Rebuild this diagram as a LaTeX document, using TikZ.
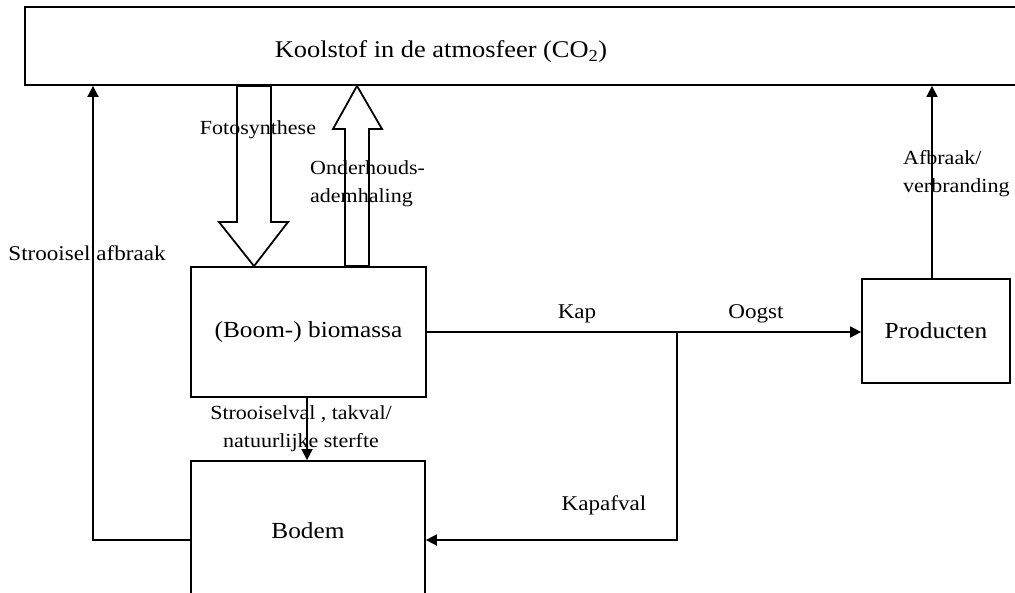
\documentclass[tikz,border=0pt]{standalone}
\usepackage{fontspec}
\setmainfont{Liberation Serif}[FakeStretch=1.1]
\usetikzlibrary{calc}
\usetikzlibrary{arrows.meta}

\begin{document}
\begin{tikzpicture}[x=1pt, y=-1pt, line join = miter, >={Triangle[length=11pt,width=11pt]}]
\tikzstyle{box}=[draw=black, line width=1.8pt, rectangle, inner sep=0pt, font=\fontsize{23}{28}\selectfont]
\tikzstyle{flow}=[draw=black, line width=1.8pt, ->]
\tikzstyle{fat}=[draw=black, fill=white, line width=1.8pt]
\tikzstyle{lbl}=[inner sep=0pt, font=\fontsize{21}{28}\selectfont]
\tikzstyle{small}=[inner sep=0pt, font=\fontsize{20}{28}\selectfont]
\clip (0,0) rectangle (1015,592);

\node[box, minimum width=1000pt, minimum height=78pt] (atmos) at (525,46) {};
\node[lbl, font=\fontsize{24}{28}\selectfont] (atmostxt) at (441,52) {Koolstof in de atmosfeer (CO\textsubscript{2})};
\node[box, minimum width=235pt, minimum height=130pt] (bio) at (308.5,332) {(Boom-) biomassa};
\node[box, minimum width=234pt, minimum height=139pt] (bodem) at (308,530.5) {Bodem};
\node[box, minimum width=148pt, minimum height=104pt] (prod) at (936,331) {Producten};

\coordinate (photo) at (254,0);
\coordinate (photoL) at (237,0);
\coordinate (photoR) at (271,0);
\coordinate (resp) at (357,0);
\coordinate (respL) at (345,0);
\coordinate (respR) at (369,0);
\coordinate (fall) at (307,0);
\coordinate (burn) at (932,0);
\coordinate (split) at (677,332);
\coordinate (kapbend) at (677,540);
\coordinate (sabend) at (93,540);

% fotosynthese en ademhaling
\draw[fat] (photoL |- atmos.south) -- (237,222) -- (219,222) -- (photo |- bio.north)
  -- (288,222) -- (271,222) -- (photoR |- atmos.south) -- cycle;
\draw[fat] (respL |- bio.north) -- (345,129) -- (333,129) -- (resp |- atmos.south)
  -- (382,129) -- (369,129) -- (respR |- bio.north) -- cycle;

\draw[flow] (bio.east) -- (bio.east -| prod.west);
\draw[flow] (split) -- (kapbend) -- (kapbend -| bodem.east);
\draw[flow] (sabend -| bodem.west) -- (sabend) -- (sabend |- atmos.south);
\draw[flow] (fall |- bio.south) -- (fall |- bodem.north);
\draw[flow] (burn |- prod.north) -- (burn |- atmos.south);

\node[small] (fotolbl) at (258,130) {Fotosynthese};
\node[small, anchor=west, align=left] (resplbl) at (310,184) {Onderhouds-\\ademhaling};
\node[lbl] (salbl) at (87,253) {Strooisel afbraak};
\node[small, align=center] (falllbl) at (301,429) {Strooiselval , takval/\\natuurlijke sterfte};
\node[lbl] (kaplbl) at (577,314) {Kap};
\node[lbl] (oogstlbl) at (756,314) {Oogst};
\node[lbl] (kapafvallbl) at (604,505) {Kapafval};
\node[small, anchor=west, align=left] (burnlbl) at (903,174) {Afbraak/\\verbranding};
\end{tikzpicture}
\end{document}
